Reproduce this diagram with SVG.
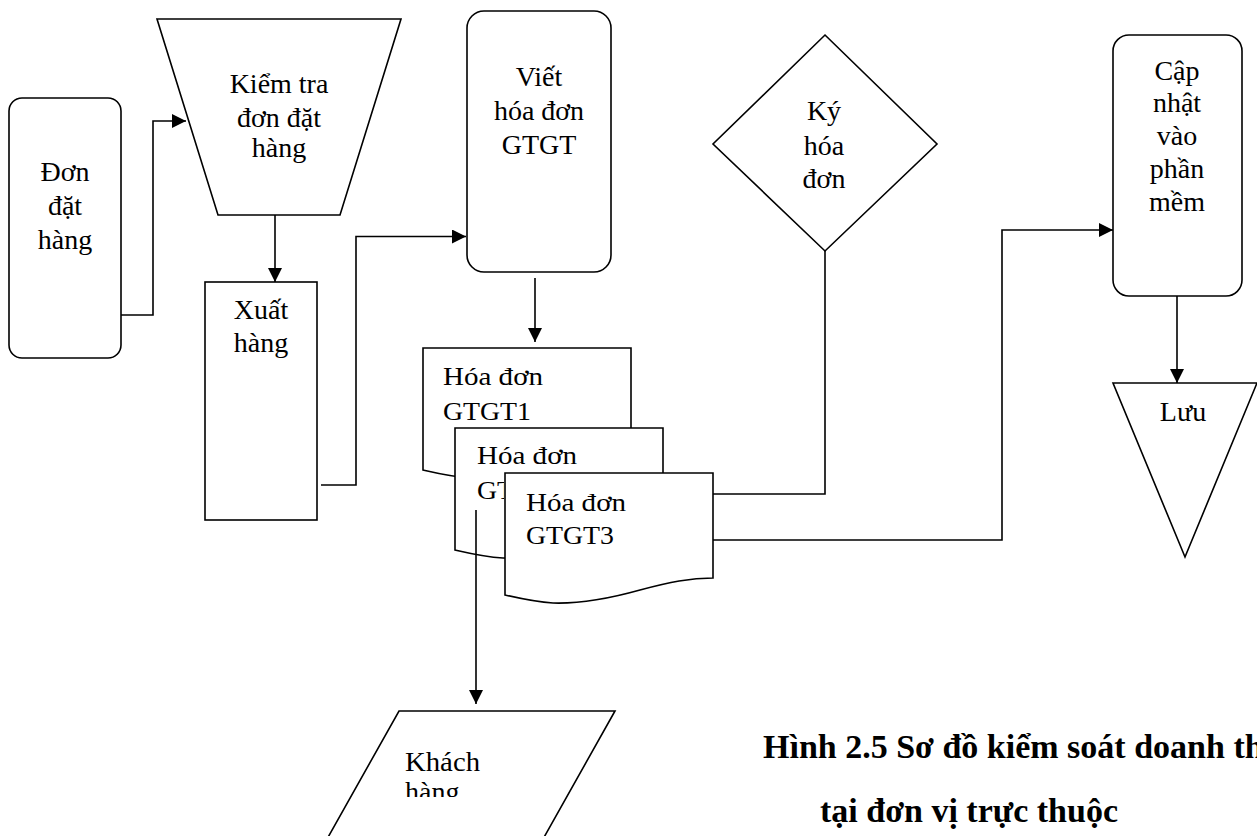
<svg xmlns="http://www.w3.org/2000/svg" xmlns:xlink="http://www.w3.org/1999/xlink" width="1257" height="836" viewBox="0 0 1257 836">
<style>
.s{fill:#fff;stroke:#000;stroke-width:1.6}
.c{fill:none;stroke:#000;stroke-width:1.6}
.t{font-family:"Liberation Serif","Times New Roman",serif;font-size:28px;fill:#000}
.tc{text-anchor:middle}
.d{font-size:25px}
.cap{font-family:"Liberation Serif","Times New Roman",serif;font-size:34px;font-weight:bold;fill:#000}
</style>
<defs>
<marker id="ar" viewBox="0 0 14 14" refX="14" refY="7" markerWidth="14" markerHeight="14" markerUnits="userSpaceOnUse" orient="auto">
<path d="M0,0 L14,7 L0,14 Z" fill="#000"/>
</marker>
<path id="doc" d="M0,0 H208 V105 C185,105 165,109 135,117 C110,124 80,131 48,130 C30,129 13,125 0,122 Z"/>
<clipPath id="kc"><rect x="300" y="700" width="400" height="97"/></clipPath>
<clipPath id="g2"><rect x="455" y="470" width="49" height="40"/></clipPath>
</defs>
<rect width="1257" height="836" fill="#fff"/>

<g id="don-dat-hang">
<rect class="s" x="9" y="98" width="112" height="260" rx="13"/>
<text class="t tc" x="65" y="181">Đơn</text>
<text class="t tc" x="65" y="215">đặt</text>
<text class="t tc" x="65" y="249">hàng</text>
</g>

<g id="kiem-tra">
<polygon class="s" points="157,19 401,19 340,215 218,215"/>
<text class="t tc" x="279" y="93">Kiểm tra</text>
<text class="t tc" x="279" y="127">đơn đặt</text>
<text class="t tc" x="279" y="157">hàng</text>
</g>

<g id="xuat-hang">
<rect class="s" x="205" y="282" width="112" height="238"/>
<text class="t tc" x="261" y="319">Xuất</text>
<text class="t tc" x="261" y="352">hàng</text>
</g>

<g id="viet-hoa-don">
<rect class="s" x="467" y="11" width="144" height="261" rx="17"/>
<text class="t tc" x="539" y="86">Viết</text>
<text class="t tc" x="539" y="120">hóa đơn</text>
<text class="t tc" x="539" y="154">GTGT</text>
</g>

<g id="hoa-don-1">
<use href="#doc" xlink:href="#doc" class="s" transform="translate(423,348)"/>
<text class="t d" x="443" y="385" textLength="100" lengthAdjust="spacingAndGlyphs">Hóa đơn</text>
<text class="t d" x="443" y="420" textLength="88" lengthAdjust="spacingAndGlyphs">GTGT1</text>
</g>

<g id="hoa-don-2">
<use href="#doc" xlink:href="#doc" class="s" transform="translate(455,428)"/>
<text class="t d" x="477" y="464" textLength="100" lengthAdjust="spacingAndGlyphs">Hóa đơn</text>
<text class="t d" x="477" y="499" textLength="88" lengthAdjust="spacingAndGlyphs" clip-path="url(#g2)">GTGT2</text>
</g>

<g id="hoa-don-3">
<use href="#doc" xlink:href="#doc" class="s" transform="translate(505,473)"/>
<text class="t d" x="526" y="511" textLength="100" lengthAdjust="spacingAndGlyphs">Hóa đơn</text>
<text class="t d" x="526" y="544" textLength="88" lengthAdjust="spacingAndGlyphs">GTGT3</text>
</g>

<g id="ky-hoa-don">
<polygon class="s" points="825,35 937,144 825,251 713,144"/>
<text class="t tc" x="824" y="120">Ký</text>
<text class="t tc" x="824" y="155">hóa</text>
<text class="t tc" x="824" y="188">đơn</text>
</g>

<g id="cap-nhat">
<rect class="s" x="1113" y="35" width="129" height="261" rx="16"/>
<text class="t tc" x="1177" y="80">Cập</text>
<text class="t tc" x="1177" y="112">nhật</text>
<text class="t tc" x="1177" y="145">vào</text>
<text class="t tc" x="1177" y="178">phần</text>
<text class="t tc" x="1177" y="211">mềm</text>
</g>

<g id="luu">
<polygon class="s" points="1113,383 1257,383 1185,557"/>
<text class="t tc" x="1183" y="421">Lưu</text>
</g>

<g id="khach-hang">
<polygon class="s" points="399,711 615,711 538,848 322,848"/>
<g clip-path="url(#kc)">
<text class="t" x="405" y="771" font-size="26" textLength="75" lengthAdjust="spacingAndGlyphs">Khách</text>
<text class="t" x="405" y="801" font-size="26">hàng</text>
</g>
</g>

<g id="connectors">
<polyline class="c" points="121,315 153,315 153,121 186,121" marker-end="url(#ar)"/>
<line class="c" x1="275" y1="215" x2="275" y2="282" marker-end="url(#ar)"/>
<polyline class="c" points="321,485 356,485 356,236.5 466,236.5" marker-end="url(#ar)"/>
<line class="c" x1="535" y1="278" x2="535" y2="342" marker-end="url(#ar)"/>
<polyline class="c" points="713,494 825,494 825,251"/>
<polyline class="c" points="713,540 1002,540 1002,230 1113,230" marker-end="url(#ar)"/>
<line class="c" x1="1177" y1="296" x2="1177" y2="383" marker-end="url(#ar)"/>
<line class="c" x1="476" y1="510" x2="476" y2="704" marker-end="url(#ar)"/>
</g>

<g id="caption">
<text class="cap" x="763" y="758">Hình 2.5 Sơ đồ kiểm soát doanh thu</text>
<text class="cap" x="820" y="822">tại đơn vị trực thuộc</text>
</g>
</svg>
